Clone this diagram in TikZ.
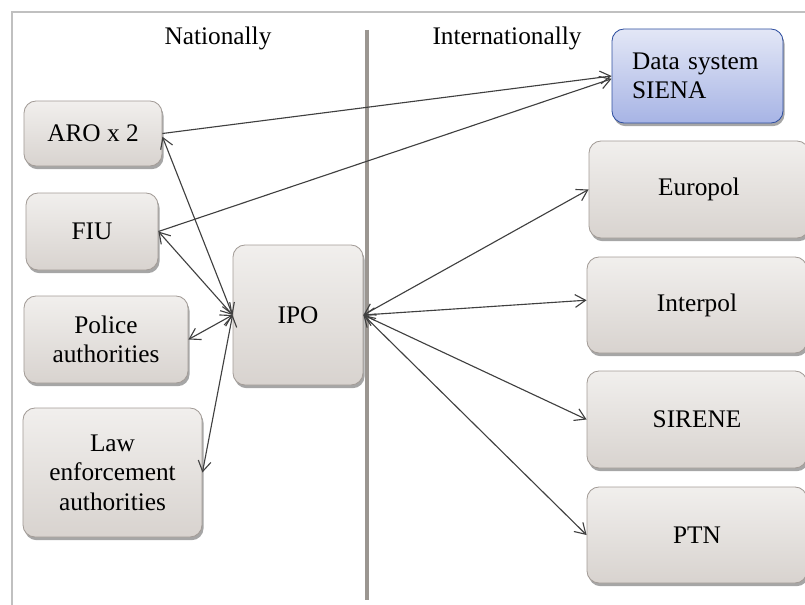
\documentclass[tikz,border=0pt]{standalone}
\usepackage{fontspec}
\setmainfont{Liberation Serif}
\usetikzlibrary{arrows.meta, shadows}
\definecolor{boxtop}{HTML}{F1EFED}
\definecolor{boxbot}{HTML}{D8D3CF}
\definecolor{boxedge}{HTML}{A39C97}
\definecolor{sienatop}{HTML}{E3E7F6}
\definecolor{sienabot}{HTML}{A7B4E5}
\definecolor{sienaedge}{HTML}{2F4F9F}
\definecolor{divgray}{HTML}{9B9691}
\definecolor{framegray}{HTML}{C0C0C0}
\definecolor{linkgray}{HTML}{404040}

\begin{document}
\begin{tikzpicture}[
  x=0.25mm, y=-0.25mm,
  >={Straight Barb[length=2.6mm, width=3.2mm]},
  agency/.style={draw=boxedge, line width=0.6pt, top color=boxtop, bottom color=boxbot,
    rounded corners=3mm, align=center, text=black, font=\fontsize{18}{21}\selectfont,
    drop shadow={shadow xshift=0.4mm, shadow yshift=-0.8mm, fill=black, opacity=0.35}},
  system/.style={agency, draw=sienaedge, top color=sienatop, bottom color=sienabot},
  heading/.style={font=\fontsize{18}{21}\selectfont, text=black},
  arr/.style={->, draw=linkgray, line width=0.8pt},
  biarr/.style={<->, draw=linkgray, line width=0.8pt},
]

\useasboundingbox (0,0) rectangle (805,605);

% Frame and national / international divider
\draw[framegray, line width=2.1pt] (12,605) -- (12,12) -- (806,12);
\draw[divgray, line width=2.8pt] (367,30) -- (367,600);

\node[heading] (natl) at (218,38) {Nationally};
\node[heading] (intl) at (507,38) {Internationally};

% =============================================
% National side
% =============================================
\node[agency, minimum width=34.5mm, minimum height=16.25mm] (aro) at (93,133.5) {ARO x 2};
\node[agency, minimum width=33mm, minimum height=19.25mm] (fiu) at (92,231.5) {FIU};
\node[agency, minimum width=41mm, minimum height=21.75mm] (police) at (106,339.5)
  {Police\\authorities};
\node[agency, minimum width=44.75mm, minimum height=32.25mm] (law) at (112.5,472.5)
  {Law\\enforcement\\authorities};

\node[agency, minimum width=32.5mm, minimum height=35mm] (ipo) at (298,315) {IPO};

% =============================================
% International side
% =============================================
\node[system, minimum width=42.75mm, minimum height=23.5mm, text width=32.75mm,
  inner xsep=5mm, align=left] (siena) at (697.5,76) {Data system\\SIENA};

\node[agency, minimum width=55mm, minimum height=24.25mm] (europol) at (699,189.5) {Europol};
\node[agency, minimum width=55mm, minimum height=24mm] (interpol) at (697,305) {Interpol};
\node[agency, minimum width=55mm, minimum height=24.25mm] (sirene) at (697,419.5) {SIRENE};
\node[agency, minimum width=55mm, minimum height=24mm] (ptn) at (697,535) {PTN};

% =============================================
% Connections
% =============================================
\draw[arr] (aro.east) -- (siena.west);
\draw[arr] (fiu.east) -- ([yshift=-0.7mm]siena.west);

\draw[biarr] (ipo.west) -- ([yshift=-0.8mm]aro.east);
\draw[biarr] (ipo.west) -- (fiu.east);
\draw[biarr] (ipo.west) -- (police.east);
\draw[biarr] (ipo.west) -- (law.east);

\draw[biarr] (ipo.east) -- (europol.west);
\draw[biarr] (ipo.east) -- ([yshift=1.2mm]interpol.west);
\draw[biarr] (ipo.east) -- (sirene.west);
\draw[biarr] (ipo.east) -- (ptn.west);

\end{tikzpicture}
\end{document}
